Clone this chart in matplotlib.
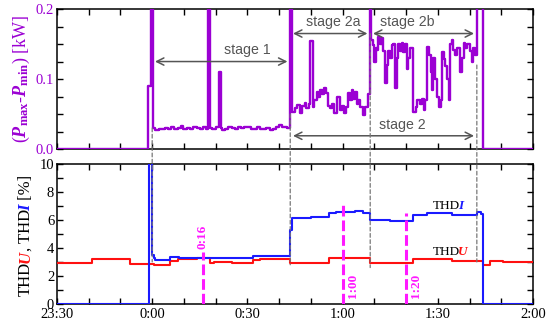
import matplotlib
matplotlib.use("Agg")
import matplotlib.pyplot as plt
from matplotlib.patches import ConnectionPatch
from matplotlib.ticker import MultipleLocator, FormatStrFormatter
from matplotlib.transforms import offset_copy

# tiempo en minutos desde las 23:30
p_t = [0, 28.8, 29.6, 30.2, 31, 32, 33, 34, 35, 36, 37, 38, 39, 39.8, 41, 42, 43, 44, 45,
       46, 47, 47.5, 48.1, 49, 50, 51.0, 51.6, 52, 53, 54, 55, 56, 57, 58, 59, 60, 61, 62,
       63, 64, 65, 66, 67, 68, 69, 70, 70.8, 71.5, 72.5, 73.4,
       73.9, 75.0, 75.6, 76.6, 77.2, 78.0, 78.6, 79.3, 79.7, 80.6, 81.0, 81.8, 82.4, 83.0,
       83.6, 84.2, 84.8, 85.5, 86.0, 86.6, 87.2, 88.1, 89.2, 89.8, 90.4, 91.0, 91.8, 92.3,
       92.9, 93.4, 94.0, 94.4, 95.0, 95.6, 96.5, 97.2, 98.0, 98.6,
       99.0, 99.7, 100.0, 100.4, 100.7, 101.2, 101.8, 102.3, 102.8, 103.4, 104.0, 104.4,
       105.0, 105.5, 106.0, 106.5, 107.0, 107.6, 108.1, 108.6, 109.1, 109.6, 110.2, 110.7,
       111.3, 112.3, 113.0, 113.4, 114.3, 115.0, 115.5, 116.0, 116.6, 117.1, 117.7, 118.2,
       118.6, 119.2, 119.7, 120.3, 121.0, 121.3, 121.8, 122.3, 122.8, 123.4, 124.0, 124.4,
       124.9, 125.5, 126.1, 127.0, 127.5, 128.1, 128.7, 129.3, 130.2, 130.7, 131.2, 131.8,
       132.3, 134.1, 150]
p_v = [0.0, 0.09, 0.30, 0.030, 0.027, 0.029, 0.028, 0.030, 0.029, 0.031, 0.029, 0.030, 0.033,
       0.029, 0.030, 0.029, 0.031, 0.030, 0.029, 0.031, 0.029, 0.30, 0.030, 0.029, 0.031,
       0.11, 0.030, 0.027, 0.029, 0.031, 0.030, 0.029, 0.031, 0.030, 0.032, 0.031, 0.028,
       0.029, 0.031, 0.029, 0.028, 0.030, 0.027, 0.029, 0.031, 0.034, 0.031, 0.032, 0.030, 0.30,
       0.053, 0.058, 0.063, 0.051, 0.062, 0.066, 0.058, 0.064, 0.155, 0.060, 0.070, 0.082,
       0.075, 0.084, 0.078, 0.087, 0.080, 0.062, 0.058, 0.064, 0.051, 0.075, 0.056, 0.062,
       0.052, 0.060, 0.080, 0.070, 0.084, 0.072, 0.082, 0.065, 0.070, 0.060, 0.049, 0.060,
       0.078, 0.30,
       0.156, 0.149, 0.125, 0.145, 0.141, 0.160, 0.150, 0.158, 0.140, 0.094, 0.120, 0.140,
       0.130, 0.148, 0.150, 0.087, 0.130, 0.150, 0.140, 0.152, 0.138, 0.150, 0.115, 0.130,
       0.145, 0.053, 0.060, 0.070, 0.065, 0.072, 0.056, 0.070, 0.146, 0.134, 0.110, 0.084,
       0.130, 0.100, 0.075, 0.060, 0.070, 0.139, 0.128, 0.118, 0.100, 0.070, 0.150, 0.156,
       0.141, 0.135, 0.145, 0.110, 0.130, 0.151, 0.145, 0.150, 0.140, 0.125, 0.145, 0.135,
       0.30, 0.0, 0.0]

u_t = [0, 11, 17, 23, 30.5, 32, 35.6, 38, 44, 48.2, 49.5, 55, 61.9, 64, 70, 73.5, 80, 85.6,
       92, 98.7, 105, 112.3, 118, 124.4, 130, 134.4, 136.5, 140.7, 150]
u_v = [2.92, 3.23, 3.18, 2.87, 2.80, 2.75, 3.10, 3.20, 3.25, 2.92, 2.97, 2.93, 3.12, 3.18,
       3.20, 2.92, 2.95, 3.28, 3.25, 2.92, 2.95, 3.23, 3.20, 3.04, 3.05, 2.80, 3.04, 2.97, 2.97]

i_t = [0, 29.0, 29.8, 30.6, 31.0, 35.6, 38.5, 45, 52, 61.9, 68, 73.5, 74.0, 80, 85.6, 88, 94,
       96.5, 98.7, 105, 112.3, 116.5, 124.4, 132, 132.5, 133.5, 134.4, 150]
i_v = [0.0, 10.5, 3.5, 3.3, 3.16, 3.33, 3.28, 3.30, 3.25, 3.40, 3.42, 5.3, 6.13, 6.18, 6.48,
       6.6, 6.65, 6.5, 6.0, 5.95, 6.37, 6.48, 6.32, 6.35, 6.6, 6.4, 0.0, 0.0]

etapas = [0 + 30, 73.5, 98.7, 132.3]       # limites de etapas (min)
marcas = [46, 90, 110]                     # lineas magenta
marcas_txt = ["0:16", "1:00", "1:20"]
marcas_alto = [3.7, 7.1, 6.5]

x_ticks = [0, 30, 60, 90, 120, 150]
x_labels = ["23:30", "0:00", "0:30", "1:00", "1:30", "2:00"]

morado = "#9B00D3"
gris = "#555555"
magenta = "#FF19FF"
serif = "Liberation Serif"
plt.rcParams["font.family"] = serif
plt.rcParams["mathtext.fontset"] = "custom"
plt.rcParams["mathtext.rm"] = serif
plt.rcParams["mathtext.it"] = serif + ":italic"
plt.rcParams["mathtext.bf"] = serif + ":bold"
plt.rcParams["mathtext.bfit"] = serif + ":italic:bold"

fig = plt.figure(figsize=(5.5, 3.22), dpi=100)
ax1 = fig.add_axes([0.1036, 0.537, 0.8655, 0.435])
ax2 = fig.add_axes([0.1036, 0.056, 0.8655, 0.435])

ax1.plot(p_t, p_v, drawstyle="steps-post", color=morado, lw=1.7, zorder=3)
ax2.plot(u_t, u_v, drawstyle="steps-post", color="#FF1010", lw=1.5, zorder=3)
ax2.plot(i_t, i_v, drawstyle="steps-post", color="#1A1AFF", lw=1.5, zorder=3)

for ax in (ax1, ax2):
    ax.set_xlim(0, 150)
    ax.set_xticks(x_ticks)
    ax.xaxis.set_minor_locator(MultipleLocator(10))
    ax.tick_params(which="both", direction="in", top=True, right=True, length=4, width=1)
    for s in ax.spines.values():
        s.set_linewidth(1.1)

ax1.set_xticklabels([])
ax2.set_xticklabels(x_labels, fontsize=10.5)
ax2.tick_params(axis="x", pad=3)

ax1.set_ylim(0, 0.2)
ax1.set_yticks([0, 0.1, 0.2])
ax1.yaxis.set_major_formatter(FormatStrFormatter("%.1f"))
ax1.yaxis.set_minor_locator(MultipleLocator(0.025))
ax1.tick_params(axis="y", labelsize=10.5, labelcolor=morado, pad=2)
ax1.set_ylabel(r"$(\mathbfit{P}_{\mathbf{max}}$-$\mathbfit{P}_{\mathbf{min}})$ [kW]",
               color=morado, fontsize=13, labelpad=3)

ax2.set_ylim(0, 10)
ax2.set_yticks([0, 2, 4, 6, 8, 10])
ax2.yaxis.set_minor_locator(MultipleLocator(1))
ax2.tick_params(axis="y", labelsize=10.5, pad=2)

# flechas de etapas
flecha = dict(arrowstyle="<->", color=gris, lw=1.1, mutation_scale=13)
ax1.annotate("", xy=(etapas[0], 0.125), xytext=(etapas[1], 0.125), arrowprops=flecha)
ax1.annotate("", xy=(etapas[1], 0.165), xytext=(etapas[2], 0.165), arrowprops=flecha)
ax1.annotate("", xy=(etapas[2], 0.165), xytext=(etapas[3], 0.165), arrowprops=flecha)
ax1.annotate("", xy=(etapas[1], 0.019), xytext=(etapas[3], 0.019), arrowprops=flecha)
st = dict(family="Liberation Sans", color=gris, fontsize=10.2, ha="center", va="center")
ax1.text(60, 0.142, "stage 1", **st)
ax1.text(87.1, 0.181, "stage 2a", **st)
ax1.text(110.5, 0.181, "stage 2b", **st)
ax1.text(108.8, 0.035, "stage 2", **st)

# lineas discontinuas entre paneles
arriba = [0.03, 0.05, 0.165, 0.12]
abajo = [3.0, 2.8, 2.6, 3.0]
for x, ya, yb in zip(etapas, arriba, abajo):
    con = ConnectionPatch(xyA=(x, ya), coordsA=ax1.transData, xyB=(x, yb), coordsB=ax2.transData,
                          color="#777777", lw=0.9, linestyle=(0, (3, 2)), zorder=1)
    fig.add_artist(con)

# lineas magenta
off = [0, 3.2, 3.2]
ytxt = [4.8, 1.3, 1.3]
for x, h, lab, dx, yt in zip(marcas, marcas_alto, marcas_txt, off, ytxt):
    ax2.plot([x, x], [0, h], color=magenta, lw=2.2, linestyle=(0, (3.5, 1.3)), zorder=4)
    ax2.text(x + dx, yt, lab, color=magenta, rotation=90, ha="center", va="center",
             fontsize=9.5, fontweight="bold")

fig.canvas.draw()
rend = fig.canvas.get_renderer()


def texto_color(piezas, x, y, transform, rot=0, size=9):
    # piezas: (texto, color, negrita-cursiva)
    avance = 0
    for txt, col, bold in piezas:
        if bold:
            avance -= 1.5   # ajuste para la cursiva
        if rot:
            tr = offset_copy(transform, fig=fig, x=0, y=avance, units="dots")
        else:
            tr = offset_copy(transform, fig=fig, x=avance, y=0, units="dots")
        t = fig.text(x, y, txt, color=col, transform=tr, rotation=rot, rotation_mode="anchor",
                     ha="left", va="baseline", fontsize=size,
                     fontweight="bold" if bold else "normal", fontstyle="italic" if bold else "normal")
        bb = t.get_window_extent(rend)
        avance += bb.height if rot else bb.width


etiqueta = [("THD", "black", False), ("U", "#FF1010", True), (", THD", "black", False),
            ("I", "#1A1AFF", True), (" [%]", "black", False)]
# medir largo total
largo = 0
for txt, col, bold in etiqueta:
    t = fig.text(0, 0, txt, fontsize=12, fontweight="bold" if bold else "normal",
                 fontstyle="italic" if bold else "normal")
    largo += t.get_window_extent(rend).width
    t.remove()
centro = (0.056 + 0.435 / 2) * 322
texto_color(etiqueta, 30 / 550, (centro - largo / 2) / 322, fig.transFigure, rot=90, size=12)

texto_color([("THD", "black", False), ("I", "#1A1AFF", True)], 118.4, 6.75, ax2.transData, size=9.5)
texto_color([("THD", "black", False), ("U", "#FF1010", True)], 118.4, 3.5, ax2.transData, size=9.5)

fig.savefig("out.png", dpi=100)
